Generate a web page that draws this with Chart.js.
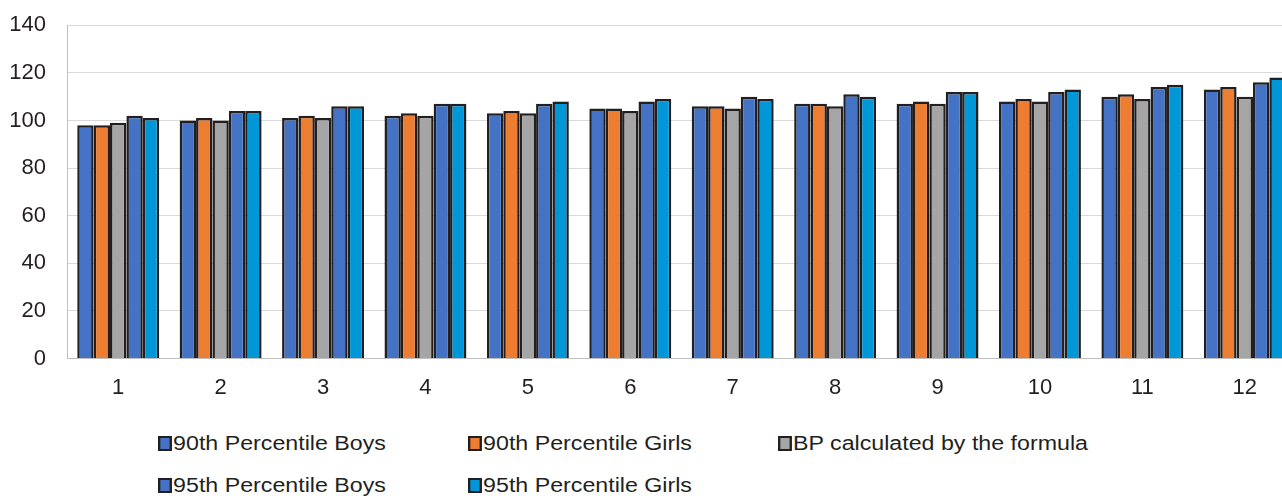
<!DOCTYPE html>
<html>
<head>
<meta charset="utf-8">
<script src="https://cdn.jsdelivr.net/npm/chart.js@4/dist/chart.umd.min.js"></script>
<style>
  html, body { margin: 0; padding: 0; background: #fff; overflow: hidden; width: 1282px; height: 496px; }
  #wrap { position: relative; width: 1282px; height: 496px; overflow: hidden; }
  #chart { position: absolute; left: 0; top: -9px; }
  .legend-item { position: absolute; font-family: "Liberation Sans", Arial, sans-serif; font-size: 20px; color: #231f20; line-height: 24px; white-space: nowrap; transform: scaleX(1.16); transform-origin: left center; }
  .legend-item span.box { display: inline-block; width: 8px; height: 11px; border: 2px solid #231f20; margin-right: 1px; vertical-align: -1px; }
</style>
</head>
<body>
<div id="wrap">
  <canvas id="chart" width="1300" height="418"></canvas>
</div>
<script>
// Categories and series values
const categories = ['1', '2', '3', '4', '5', '6', '7', '8', '9', '10', '11', '12'];
const boys90  = [98, 100, 101, 102, 103, 105, 106, 107, 107, 108, 110, 113];
const girls90 = [98, 101, 102, 103, 104, 105, 106, 107, 108, 109, 111, 114];
const formula = [99, 100, 101, 102, 103, 104, 105, 106, 107, 108, 109, 110];
const boys95  = [102, 104, 106, 107, 107, 108, 110, 111, 112, 112, 114, 116];
const girls95 = [101, 104, 106, 107, 108, 109, 109, 110, 112, 113, 115, 118];
const yTicks = [0, 20, 40, 60, 80, 100, 120, 140];

const seriesNames = ['90th Percentile Boys', '90th Percentile Girls', 'BP calculated by the formula', '95th Percentile Boys', '95th Percentile Girls'];
const seriesColors = ['#4472C4', '#ED7D31', '#A5A5A5', '#4472C4', '#0097D8'];
const seriesData = [boys90, girls90, formula, boys95, girls95];

const datasets = seriesData.map(function(values, i) {
    return {
        label: seriesNames[i],
        data: values,
        backgroundColor: seriesColors[i],
        borderColor: '#231f20',
        borderWidth: 2.5,
        borderSkipped: 'bottom'
    };
});

const tickFont = { family: '"Liberation Sans", Arial, sans-serif', size: 22 };

const ctx = document.getElementById('chart').getContext('2d');
const chart = new Chart(ctx, {
    type: 'bar',
    data: { labels: categories, datasets: datasets },
    options: {
        responsive: false,
        animation: false,
        layout: { padding: { left: 8, right: 4, top: 5, bottom: 0 } },
        plugins: {
            legend: { display: false },
            tooltip: { enabled: false }
        },
        datasets: {
            bar: { categoryPercentage: 0.8, barPercentage: 1.0 }
        },
        scales: {
            x: {
                grid: { display: false },
                border: { color: '#bfbfbf', width: 1 },
                ticks: {
                    color: '#231f20',
                    font: tickFont,
                    padding: 8,
                    maxRotation: 0
                }
            },
            y: {
                min: 0,
                max: 140,
                afterBuildTicks: function(axis) {
                    axis.ticks = yTicks.map(function(v) { return { value: v }; });
                },
                afterFit: function(axis) {
                    axis.width = 59;
                },
                grid: { color: '#d9d9d9', lineWidth: 1, drawTicks: false },
                border: { color: '#bfbfbf', width: 1 },
                ticks: {
                    color: '#231f20',
                    font: tickFont,
                    padding: 21
                }
            }
        }
    }
});

// Legend laid out in a grid like the original
const legendPos = [[158, 431], [468, 431], [778, 431], [158, 473], [468, 473]];
const wrap = document.getElementById('wrap');
chart.data.datasets.forEach(function(ds, i) {
    const item = document.createElement('div');
    item.className = 'legend-item';
    item.style.left = legendPos[i][0] + 'px';
    item.style.top = legendPos[i][1] + 'px';
    item.innerHTML = '<span class="box" style="background:' + ds.backgroundColor + '"></span>' + ds.label;
    wrap.appendChild(item);
});
</script>
</body>
</html>
